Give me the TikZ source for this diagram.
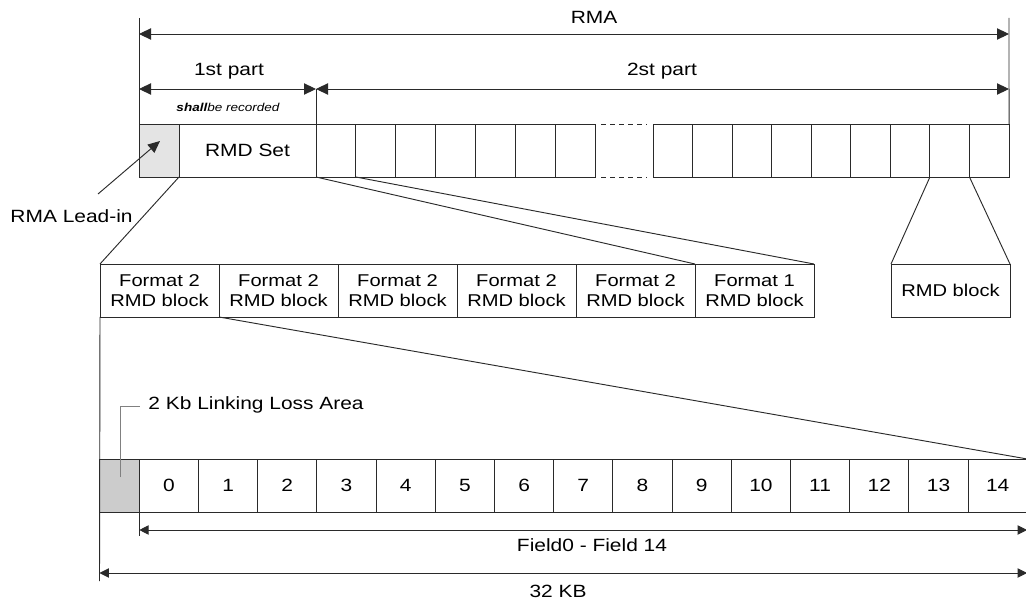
\documentclass[tikz,border=0pt]{standalone}
\usepackage{fontspec}
\setmainfont[FakeStretch=1.18]{Liberation Sans}
\usetikzlibrary{arrows.meta}
\definecolor{leadgray}{HTML}{E4E4E4}
\definecolor{lossgray}{HTML}{CCCCCC}
\definecolor{linegray}{HTML}{2A2A2A}
\begin{document}
\begin{tikzpicture}[x=0.75pt,y=-0.75pt,line width=0.7pt,draw=linegray,
  box/.style={draw=linegray,inner sep=0pt,outer sep=0pt,anchor=north west,
    minimum height=53*0.75pt,align=center,font=\fontsize{12.8}{14.6}\selectfont},
  lbl/.style={inner sep=0pt,font=\fontsize{13.3}{14.6}\selectfont},
  dim/.style={{Triangle[length=9pt,width=8.5pt]}-{Triangle[length=9pt,width=8.5pt]}},
  dimsm/.style={{Triangle[length=7pt,width=7pt]}-{Triangle[length=7pt,width=7pt]}},
  gapdash/.style={dash pattern=on 3.75pt off 3pt}]
\useasboundingbox (0,0) rectangle (1026,599);

% ---- RMA row ----
\node[box,fill=leadgray,minimum width=40*0.75pt] (lead) at (139,124) {};
\node[box,minimum width=137*0.75pt,font=\fontsize{13.3}{14.6}\selectfont] (set) at (179,124) {RMD Set};
\foreach \i in {1,...,7}
  \node[box,minimum width=39.86*0.75pt] (c\i) at ({316+(\i-1)*39.86},124) {};
\foreach \i in {1,...,9}
  \node[box,minimum width=39.56*0.75pt] (r\i) at ({653+(\i-1)*39.56},124) {};
\draw[gapdash] ([xshift=4.5pt]c7.north east) -- ([xshift=-4.5pt]r1.north west);
\draw[gapdash] ([xshift=4.5pt]c7.south east) -- ([xshift=-4.5pt]r1.south west);

% ---- extent lines and dimension arrows ----
\coordinate (ltop) at (139,18);
\coordinate (rtop) at (1009,18);
\draw (ltop) -- (lead.north west);
\draw (rtop) -- (r9.north east);
\coordinate (rmaL) at (139,34);
\coordinate (rmaR) at (1009,34);
\draw[dim] (rmaL) -- (rmaR);
\node[lbl] (rma) at (594,17) {RMA};

\coordinate (p1L) at (139,89);
\coordinate (pmid) at (316,89);
\coordinate (p2R) at (1009,89);
\draw[dim] (p1L) -- (pmid);
\draw[dim] (pmid) -- (p2R);
\draw (pmid) -- (c1.north west);
\node[lbl] (part1) at (229,71) {1st part};
\node[lbl] (part2) at (662,71) {2st part};
\node[inner sep=0pt,font=\fontsize{8.6}{10}\selectfont\itshape] (shall) at (228,107)
  {\bfseries shall\mdseries be recorded};

% ---- lead-in callout ----
\node[lbl,anchor=west] (leadlbl) at (10,216) {RMA Lead-in};
\coordinate (leadtail) at (98,194);
\coordinate (leadtip) at (160,141);
\draw[-{Triangle[length=9pt,width=8pt]}] (leadtail) -- (leadtip);

% ---- RMD set expanded ----
\foreach \i/\n in {1/2,2/2,3/2,4/2,5/2,6/1}
  \node[box,minimum width=119*0.75pt] (f\i) at ({100+(\i-1)*119},264) {Format \n\\RMD block};
\node[box,minimum width=119*0.75pt] (rb) at (891,264) {RMD block};

\draw (lead.south east) -- (f1.north west);
\draw (c1.south west) -- (f6.north west);
\draw (c1.south east) -- (f6.north east);
\draw (r8.south west) -- (rb.north west);
\draw (r8.south east) -- (rb.north east);

% ---- RMD block expanded into fields ----
\node[box,fill=lossgray,minimum width=39.8*0.75pt] (loss) at (99.5,459) {};
\foreach \i in {0,...,14}
  \node[box,minimum width=59.2*0.75pt,font=\fontsize{13.3}{14.6}\selectfont] (d\i) at ({139.3+\i*59.2},459) {\i};
\draw (f2.south west) -- (d14.north east);

\coordinate (lossknee) at (120,406);
\coordinate (lossend) at (140,406);
\coordinate (lossfoot) at (120,477);
\draw[draw=gray] (lossfoot) -- (lossknee) -- (lossend);
\node[lbl,anchor=west] (losslbl) at (148,405) {2 Kb Linking Loss Area};

\coordinate (blbot) at (99.5,581);
\draw (f1.south west) -- (blbot);
\coordinate (fbot) at (139.3,536);
\draw (d0.south west) -- (fbot);

\coordinate (faL) at (139.3,530);
\coordinate (faR) at (1027,530);
\draw[dimsm] (faL) -- (faR);
\node[lbl] (fieldlbl) at (592,545) {Field0 - Field 14};
\coordinate (kbL) at (99.5,573);
\coordinate (kbR) at (1027,573);
\draw[dimsm] (kbL) -- (kbR);
\node[lbl] (kblbl) at (558,591) {32 KB};
\end{tikzpicture}
\end{document}
